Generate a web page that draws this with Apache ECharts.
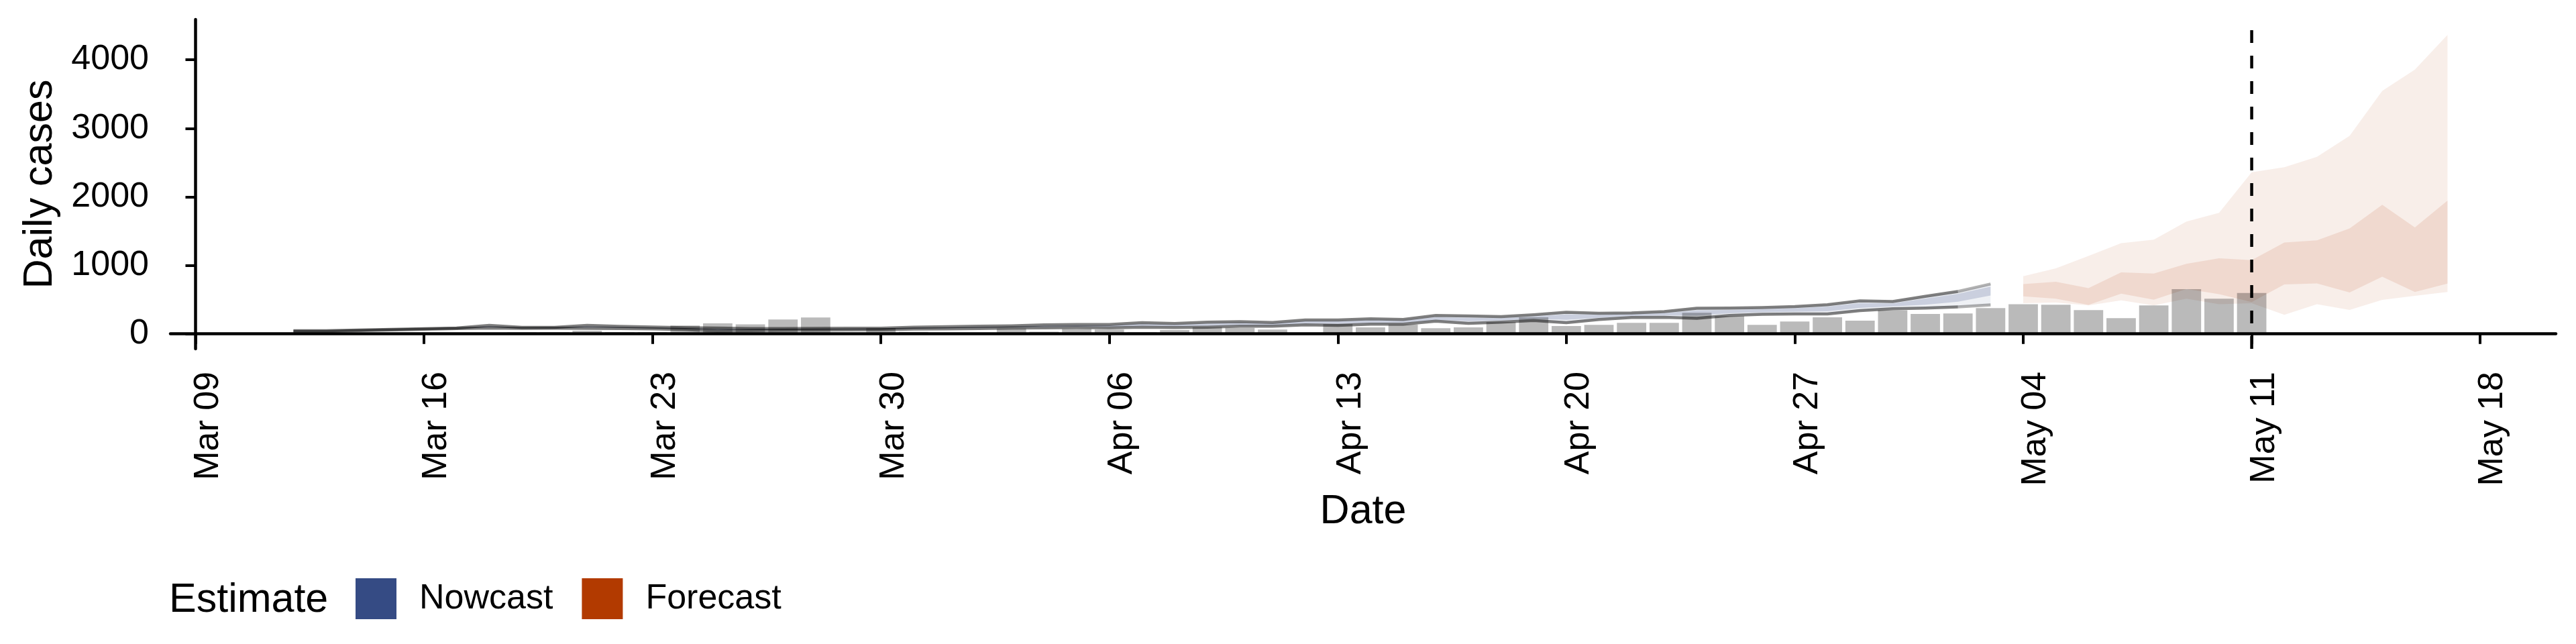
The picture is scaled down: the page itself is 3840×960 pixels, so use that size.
<!DOCTYPE html>
<html><head><meta charset="utf-8">
<script src="https://cdn.jsdelivr.net/npm/echarts@6/dist/echarts.min.js"></script>
<style>html,body{margin:0;padding:0;background:#fff}#c{width:3840px;height:960px}</style>
</head><body><div id="c"></div>
<script>
// ---- data ----
const originDate = '2020-03-09';
const tickDates = ['2020-03-09','2020-03-16','2020-03-23','2020-03-30','2020-04-06','2020-04-13','2020-04-20','2020-04-27','2020-05-04','2020-05-11','2020-05-18'];
const tickLabels = ['Mar 09','Mar 16','Mar 23','Mar 30','Apr 06','Apr 13','Apr 20','Apr 27','May 04','May 11','May 18'];
const yTicks = [0, 1000, 2000, 3000, 4000];

const observedStart = '2020-03-12';
const observedCases = [0,0,0,0,13,5,13,22,23,45,23,23,121,153,140,209,239,7,85,29,13,13,78,32,72,62,23,55,98,88,62,13,144,95,137,82,95,173,242,114,131,162,160,308,259,131,180,242,193,344,291,298,376,433,426,347,229,416,652,514,596];

const nowcastStart = '2020-03-12';
const nowLower90 = [35,35,48,58,68,78,85,80,82,80,78,72,62,40,48,52,55,58,60,70,72,78,85,88,92,88,98,92,98,111,111,131,124,141,141,186,154,170,196,164,209,240,242,226,268,285,291,291,340,367,377,393,422];
const nowUpper90 = [45,45,55,65,75,85,125,95,95,125,110,100,90,85,78,78,80,82,82,98,105,111,118,131,137,137,164,150,170,177,165,203,203,219,209,268,262,252,278,314,301,305,324,373,377,383,399,426,481,472,547,619,727];
const nowLower50 = [38,38,50,60,70,80,95,85,86,92,88,82,72,55,58,60,62,65,67,78,82,88,95,100,105,102,115,110,118,130,128,150,145,162,160,205,185,195,220,205,235,262,268,265,300,315,322,330,378,400,425,470,560];
const nowUpper50 = [42,42,53,63,73,83,115,92,92,115,102,93,84,75,72,72,74,76,77,90,96,102,108,120,125,124,148,135,152,160,152,185,185,200,192,245,235,230,255,285,278,285,302,345,350,358,373,398,450,445,515,585,690];
const fadeFrom = '2020-05-01';

const forecastStart = '2020-05-04';
const foreLower90 = [448,458,416,488,416,514,432,448,278,432,350,496,555,610];
const foreUpper90 = [842,956,1137,1323,1376,1638,1766,2359,2431,2585,2890,3545,3856,4364];
const foreLower50 = [547,514,423,586,498,655,580,465,721,737,603,835,612,734];
const foreUpper50 = [727,760,668,897,881,1022,1104,1077,1333,1366,1540,1884,1553,1946];

const forecastDate = '2020-05-11';
const legendNames = ['Nowcast', 'Forecast'];
const legendColors = ['#354B84', '#B23A00'];

// ---- helpers ----
const DAY = 86400000;
const dayOf = s => Math.round((Date.parse(s) - Date.parse(originDate)) / DAY);
const tickVals = tickDates.map(dayOf);
const xMin = -0.77, xMax = 72.32;
const yMin = -218.5, yMax = 4588.5;
const FONT = 'Liberation Sans';
const gridLeft = 254, gridRight = 30, gridTop = 29, gridBottom = 440;
const plotW = 3840 - gridLeft - gridRight;
const barW = 0.9 * plotW / (xMax - xMin);

function band(name, start, lo, hi, fill, z) {
  const x0 = dayOf(start);
  const data = lo.map((v, i) => [x0 + i, v, hi[i]]);
  return {
    type: 'custom', name, z, silent: true, data,
    encode: { x: 0, y: [1, 2] },
    itemStyle: { color: fill },
    renderItem(params, api) {
      if (params.dataIndex !== 0) return;
      const pts = [];
      for (let i = 0; i < data.length; i++) pts.push(api.coord([data[i][0], data[i][2]]));
      for (let i = data.length - 1; i >= 0; i--) pts.push(api.coord([data[i][0], data[i][1]]));
      return { type: 'polygon', shape: { points: pts }, style: { fill } };
    }
  };
}
function boundLine(start, vals, from, to, color) {
  const x0 = dayOf(start);
  const pts = vals.map((v, i) => [x0 + i, v]).filter(p => p[0] >= from && p[0] <= to);
  return {
    type: 'line', silent: true, z: 2, showSymbol: false, symbol: 'none',
    data: pts,
    lineStyle: { width: 4.5, color, join: 'round', cap: 'butt' }
  };
}

const obsX0 = dayOf(observedStart);
const fd = dayOf(forecastDate);
const ff = dayOf(fadeFrom) + 1;
const dark = 'rgba(0,0,0,0.5)', light = 'rgba(0,0,0,0.3)';

const series = [
  band('Nowcast', nowcastStart, nowLower90, nowUpper90, 'rgba(53,75,132,0.08)', 1),
  band('Nowcast', nowcastStart, nowLower50, nowUpper50, 'rgba(53,75,132,0.20)', 1),
  band('Forecast', forecastStart, foreLower90, foreUpper90, 'rgba(178,58,0,0.085)', 1),
  band('Forecast', forecastStart, foreLower50, foreUpper50, 'rgba(178,58,0,0.11)', 1),
  boundLine(nowcastStart, nowLower90, -1e9, ff, dark),
  boundLine(nowcastStart, nowUpper90, -1e9, ff, dark),
  boundLine(nowcastStart, nowLower90, ff, 1e9, light),
  boundLine(nowcastStart, nowUpper90, ff, 1e9, light),
  {
    type: 'bar', silent: true, z: 3, barWidth: barW,
    data: observedCases.map((v, i) => [obsX0 + i, v]),
    itemStyle: { color: 'rgba(0,0,0,0.27)' }
  },
  {
    type: 'line', silent: true, z: 4, showSymbol: false, symbol: 'none',
    data: [[fd, yMin], [fd, yMax]],
    lineStyle: { width: 4.5, color: '#000', type: [19, 19] }
  }
];

const chart = echarts.init(document.getElementById('c'), null, { renderer: 'canvas' });
chart.setOption({
  animation: false,
  backgroundColor: '#fff',
  grid: { left: gridLeft, right: gridRight, top: gridTop, bottom: gridBottom, containLabel: false },
  xAxis: {
    type: 'value', min: xMin, max: xMax,
    axisLine: { show: true, lineStyle: { color: '#000', width: 4.5 } },
    axisTick: { show: true, customValues: tickVals, length: 15, lineStyle: { color: '#000', width: 4 } },
    axisLabel: {
      customValues: tickVals, rotate: 90, margin: 34,
      formatter: v => tickLabels[tickVals.indexOf(Math.round(v))],
      fontSize: 52, fontFamily: FONT, color: '#000', verticalAlign: 'top', lineHeight: 38
    },
    splitLine: { show: false },
    name: 'Date', nameLocation: 'middle', nameGap: 210,
    nameTextStyle: { fontSize: 61, fontFamily: FONT, color: '#000' }
  },
  yAxis: {
    type: 'value', min: yMin, max: yMax,
    axisLine: { show: true, lineStyle: { color: '#000', width: 4.5 } },
    axisTick: { show: true, customValues: yTicks, length: 15, lineStyle: { color: '#000', width: 4 } },
    axisLabel: { customValues: yTicks, margin: 32, fontSize: 52, fontFamily: FONT, color: '#000', formatter: v => String(Math.round(v)) },
    splitLine: { show: false },
    name: 'Daily cases', nameLocation: 'middle', nameGap: 163,
    nameTextStyle: { fontSize: 61, fontFamily: FONT, color: '#000' }
  },
  legend: {
    left: 530, top: 862, padding: 0, orient: 'horizontal',
    itemWidth: 61, itemHeight: 61, itemGap: 43, icon: 'rect', selectedMode: false,
    textStyle: { fontSize: 52, fontFamily: FONT, color: '#000', padding: [0, 0, 0, 29] },
    data: legendNames.map((n, i) => ({ name: n, icon: 'rect', itemStyle: { color: legendColors[i], borderWidth: 0 } }))
  },
  graphic: [{
    type: 'text', x: 252, y: 895, silent: true,
    style: { text: 'Estimate', fontSize: 61, fontFamily: FONT, fill: '#000', align: 'left', verticalAlign: 'middle' }
  }],
  series
});
</script></body></html>
